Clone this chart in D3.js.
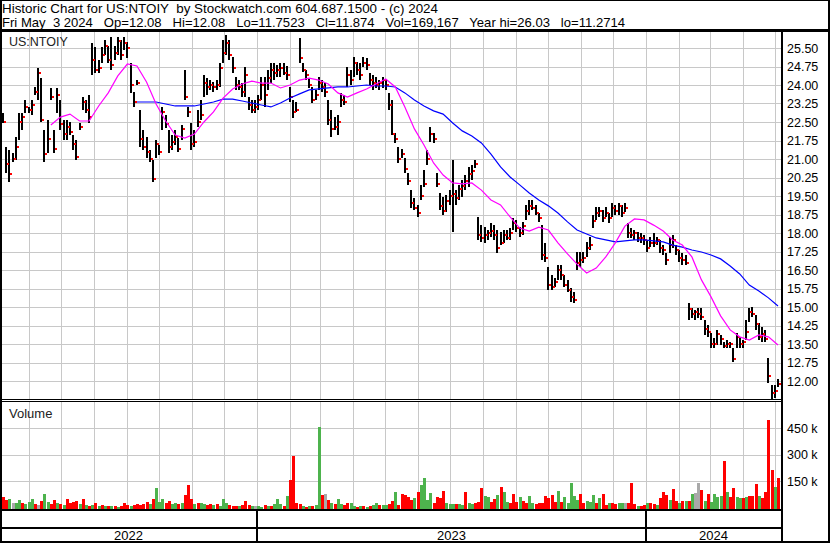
<!DOCTYPE html>
<html>
<head>
<meta charset="utf-8">
<script src="https://cdn.jsdelivr.net/npm/d3@7"></script>
<style>
body { margin: 0; background: #fff; }
text { font-family: Arial, "Liberation Sans", sans-serif; fill: #000; }
.header { white-space: pre; }
</style>
</head>
<body>
<div class="chart"></div>
<script>
// daily bars, one sample every ~3 calendar days, May 3 2022 -> May 3 2024
var highs = [
  22.86,21.49,21.37,21.24,21.9,22.86,22.86,23.39,23.1,23.39,
  23.92,24.7,24.28,22.18,22.58,23.88,22.18,23.88,23.39,22.58,
  22.58,22.5,21.97,21.77,22.46,23.51,23.39,23.6,25.7,25.54,
  25.0,25.54,25.82,25.6,25.95,25.6,25.95,25.82,25.95,25.74,
  24.89,23.72,24.2,22.99,22.18,21.9,21.37,20.96,21.77,21.57,
  23.1,22.78,22.18,21.97,22.18,21.85,22.38,24.61,23.1,22.46,
  22.18,22.99,23.39,24.4,24.28,24.2,24.12,24.2,24.89,25.82,
  26.03,25.82,25.14,24.32,24.2,24.08,24.73,23.51,23.39,23.39,
  23.6,24.32,24.32,24.61,24.89,24.89,24.81,24.89,24.89,24.77,
  23.92,23.39,23.31,25.9,24.89,24.61,24.28,23.92,23.8,24.32,
  24.2,24.08,23.39,22.99,22.7,22.78,23.68,23.6,24.73,24.61,
  25.14,24.93,24.89,25.14,25.1,24.49,24.41,24.32,24.2,24.32,
  24.2,23.68,23.39,22.05,21.49,21.4,21.04,20.43,19.74,19.42,
  19.14,19.95,20.55,21.37,22.3,22.05,20.43,19.62,19.46,19.54,
  19.74,20.96,19.74,19.95,20.15,20.35,20.68,20.76,20.96,18.65,
  18.32,18.24,18.12,18.4,18.32,18.12,18.04,18.12,18.12,18.2,
  18.61,18.53,18.24,18.45,19.14,19.34,19.34,19.14,18.81,18.32,
  17.6,16.62,16.3,16.18,16.7,16.7,16.3,16.1,15.77,15.61,
  17.23,17.23,17.23,17.64,17.84,18.73,19.05,19.05,18.93,19.05,
  18.81,19.22,19.14,19.22,19.14,19.22,18.41,18.2,18.12,18.04,
  18.0,17.92,17.72,17.84,18.0,17.84,17.72,17.51,17.19,17.84,
  17.92,17.51,17.31,17.19,17.11,15.16,14.96,14.88,14.96,14.96,
  14.47,14.27,13.94,13.74,14.07,13.86,13.58,13.66,13.58,13.34,
  13.94,13.78,13.66,14.47,14.96,15.0,14.68,14.35,14.19,14.07,
  12.93,11.84,11.84,12.08
];
var lows = [
  22.46,20.43,20.07,20.88,20.96,21.77,22.18,22.86,22.86,22.8,
  23.6,23.4,22.5,20.88,21.24,23.39,21.24,22.86,22.18,21.77,
  21.77,21.97,21.37,20.96,22.18,22.99,22.86,22.46,24.41,24.49,
  24.49,24.89,25.2,24.89,24.61,25.0,25.2,25.0,25.42,25.1,
  23.68,23.1,24.0,21.49,21.37,21.04,20.88,20.07,21.04,21.16,
  22.18,22.26,21.24,21.37,21.57,21.28,21.77,23.39,22.7,21.37,
  21.49,22.3,22.58,23.51,23.6,23.8,23.72,23.8,23.92,24.89,
  25.2,25.0,24.49,23.8,23.8,23.51,23.51,22.99,22.86,22.86,
  22.99,23.39,23.1,23.8,24.08,24.2,24.32,24.32,24.41,24.2,
  23.31,22.66,22.9,24.89,24.53,24.2,23.88,23.27,23.39,23.8,
  23.72,23.51,22.38,21.9,22.18,21.97,23.1,23.18,23.92,24.0,
  24.32,24.41,24.2,24.73,24.61,24.0,23.8,23.88,23.8,23.88,
  23.8,22.99,21.97,21.65,20.84,21.04,20.43,19.95,19.01,18.93,
  18.65,19.34,19.87,20.76,21.69,21.65,19.87,18.93,18.73,18.85,
  19.14,18.04,19.14,19.34,19.46,19.74,19.87,20.15,20.64,17.72,
  17.64,17.6,17.72,17.84,17.72,17.19,17.51,17.6,17.72,17.72,
  18.12,18.04,17.84,17.92,18.53,18.73,18.93,18.73,18.45,16.91,
  16.83,15.69,15.69,15.81,16.1,16.1,15.81,15.61,15.2,15.16,
  16.5,16.62,16.79,17.03,17.31,18.2,18.53,18.65,18.45,18.65,
  18.41,18.65,18.73,18.73,18.65,18.85,17.8,17.8,17.72,17.64,
  17.6,17.51,17.23,17.43,17.43,17.51,17.19,17.11,16.7,17.19,
  17.39,17.11,16.83,16.7,16.7,14.47,14.55,14.47,14.55,14.47,
  13.86,13.78,13.34,13.34,13.46,13.46,13.34,13.34,13.34,12.77,
  13.34,13.34,13.34,13.66,14.39,14.6,14.07,13.66,13.58,13.58,
  11.92,11.27,11.31,11.75
];
var closes = [
  22.5,20.8,20.4,21.0,21.5,22.5,22.7,23.1,23.0,23.2,
  23.7,24.5,22.6,21.2,21.8,23.5,21.4,23.6,22.4,22.0,
  22.3,22.1,21.6,21.1,22.3,23.3,23.0,22.7,25.0,24.6,
  24.7,25.2,25.6,25.0,24.8,25.3,25.8,25.2,25.7,25.5,
  24.0,23.3,24.1,21.8,21.5,21.3,21.0,20.2,21.6,21.3,
  22.9,22.4,21.5,21.7,21.9,21.4,22.2,23.5,22.9,21.6,
  21.7,22.5,22.8,24.1,23.9,24.0,23.9,24.0,24.7,25.3,
  25.7,25.2,24.7,24.0,23.9,23.7,24.4,23.2,23.0,23.1,
  23.4,24.0,23.6,24.3,24.6,24.5,24.6,24.7,24.5,24.4,
  23.5,22.9,23.0,25.1,24.6,24.4,24.0,23.4,23.6,24.1,
  23.9,23.7,22.6,22.2,22.3,22.5,23.4,23.3,24.4,24.2,
  24.9,24.6,24.4,24.9,24.8,24.2,24.1,24.0,24.1,24.2,
  24.0,23.2,22.0,21.8,21.0,21.2,20.6,20.1,19.2,19.0,
  18.8,19.5,20.0,21.0,22.0,21.8,20.0,19.1,18.9,19.3,
  19.5,19.6,19.4,19.8,19.9,20.1,20.4,20.5,20.8,17.9,
  17.8,17.9,18.0,18.1,17.9,17.4,17.6,17.9,17.8,18.0,
  18.4,18.2,18.0,18.3,18.9,19.1,19.0,18.8,18.6,17.1,
  17.0,15.9,15.8,16.0,16.5,16.3,15.9,15.7,15.4,15.3,
  16.8,16.9,17.0,17.4,17.5,18.5,18.8,18.9,18.6,18.8,
  18.6,19.0,18.9,19.1,18.8,19.0,18.0,17.9,18.0,17.8,
  17.8,17.7,17.4,17.6,17.6,17.7,17.4,17.3,16.9,17.5,
  17.7,17.3,17.0,16.9,16.8,14.9,14.7,14.8,14.7,14.6,
  14.1,14.0,13.5,13.5,13.9,13.7,13.4,13.5,13.5,12.9,
  13.8,13.5,13.6,14.0,14.8,14.7,14.3,13.8,13.9,13.7,
  12.2,11.5,11.6,11.874
];

// moving averages at every 3rd bar (null before the line starts)
var maPink = [
  null,null,null,null,null,
  22.38,22.7,22.82,22.54,22.54,23.15,23.68,24.37,24.85,24.77,
  24.12,23.23,22.54,21.97,21.85,22.01,22.5,22.91,23.47,23.84,
  24.04,24.16,24.08,24.08,23.88,24.0,24.2,24.28,24.2,24.04,
  23.68,23.51,23.68,23.84,24.04,24.24,23.92,23.11,22.22,21.57,
  20.84,20.35,20.03,19.99,20.03,19.74,19.34,19.14,18.65,18.2,
  18.08,18.24,18.12,17.6,17.15,16.74,16.38,16.58,17.03,17.6,
  18.28,18.57,18.53,18.32,18.08,17.72,17.51,17.03,16.1,15.41,
  14.64,14.07,13.79,13.66,13.87,13.79,13.46
];
var maBlue = [
  null,null,null,null,null,null,null,null,null,null,null,null,null,null,
  23.31,23.31,23.31,23.23,23.15,23.15,23.15,23.23,23.31,23.43,
  23.43,23.35,23.27,23.19,23.11,23.27,23.47,23.64,23.8,23.84,
  23.88,23.92,23.92,23.96,24.0,23.96,23.96,23.92,23.68,23.39,
  23.15,22.95,22.82,22.46,22.14,21.93,21.65,21.2,20.68,20.27,
  19.95,19.62,19.34,19.1,18.81,18.45,18.12,17.96,17.8,17.72,
  17.64,17.68,17.72,17.72,17.68,17.64,17.51,17.43,17.31,17.23,
  17.11,16.95,16.66,16.34,15.89,15.65,15.37,15.04
];
var maStep = 3;

// volume in thousands, and r = down day, g = up day, n = unchanged
var volumes = [
  63,45,50,28,28,45,30,22,34,50,
  20,17,40,80,34,25,45,30,20,17,
  50,30,34,40,20,50,17,12,15,28,
  12,17,10,12,10,10,8,12,30,15,
  12,17,20,15,22,34,25,50,112,34,
  50,28,40,22,28,25,28,75,127,48,
  22,28,30,20,17,25,15,20,12,50,
  28,15,12,12,10,15,40,15,10,12,
  12,8,15,10,10,20,50,22,10,70,
  160,290,28,22,10,8,12,10,15,455,
  75,80,45,30,22,50,20,15,28,28,
  10,8,12,10,8,12,17,28,15,17,
  15,20,40,92,17,80,75,63,45,56,
  90,127,170,45,85,28,63,55,98,30,
  22,22,22,22,17,90,28,20,28,34,
  110,70,63,34,50,75,117,90,34,28,
  80,34,63,40,28,70,30,22,28,28,
  70,55,75,34,98,34,63,28,142,70,
  45,80,28,40,34,75,28,55,80,17,
  28,30,22,28,28,28,28,140,22,12,
  10,17,28,28,22,17,55,92,75,45,
  105,40,28,40,40,40,80,85,140,100,
  40,80,34,80,63,70,265,90,63,115,
  63,55,55,63,70,70,135,70,55,90,
  495,212,120,169
];
var volDir = ("rrgnggrggg" + "rnrggrrgrg" + "rrrrgrgrgr" + "grgrgrgrrr" + "grrrrrgrgg" +
  "grrggrgrrr" + "grggrrgrgg" + "grrrgrrrgn" + "ggrgrgggrg" + "rrrrgrgrgg" +
  "rnrgrggrrg" + "grgrgrggrg" + "grrgrrrrrg" + "rggggrrrrg" + "ggrggrggrr" +
  "rggrrgrggr" + "rrgrrggrrr" + "rrrrgrgggg" + "grrgggrgrr" + "grrggnrrrg" +
  "rrgrrgrrrg" + "rrgrgrgnnr" + "grggggrgrr" + "ggrgrrrgrr" + "rrgr").split("");

var priceTicks = [12.00, 12.75, 13.50, 14.25, 15.00, 15.75, 16.50, 17.25, 18.00, 18.75,
  19.50, 20.25, 21.00, 21.75, 22.50, 23.25, 24.00, 24.75, 25.50];
var volTicks = [150, 300, 450];
var years = [2022, 2023, 2024];

// header lines: text, baseline, width it takes in the picture
var headerLines = [
  ["Historic Chart for US:NTOIY  by Stockwatch.com 604.687.1500 - (c) 2024", 13, 436],
  ["Fri May  3 2024   Op=12.08   Hi=12.08   Lo=11.7523   Cl=11.874   Vol=169,167   Year hi=26.03   lo=11.2714", 27, 623]
];

var svgWidth = 830;
var svgHeight = 543;
var plotRight = 781;

var svg = d3.select(".chart")
  .append("svg")
  .attr("width", svgWidth)
  .attr("height", svgHeight);

// scales
var xIndex = d3.scaleLinear().domain([0, closes.length - 1]).range([3, 778]);
var xTime = d3.scaleTime().domain([new Date(2022, 4, 1), new Date(2024, 4, 5)]).range([-4, 779]);
var yPrice = d3.scaleLinear().domain([12, 25.5]).range([381, 48]);
var yVol = d3.scaleLinear().domain([0, 450]).range([508, 428]);

var months = xTime.ticks(d3.timeMonth.every(1)).filter(function(m) {
  return xTime(m) > 3 && xTime(m) < plotRight - 2;
});

svg.append("defs").append("clipPath").attr("id", "priceClip")
  .append("rect").attr("x", 2).attr("y", 32).attr("width", plotRight - 2).attr("height", 367);

// grid
var grid = svg.append("g").attr("stroke", "#c8c8c8").attr("stroke-width", 1).attr("shape-rendering", "crispEdges");

grid.selectAll(".hp").data(priceTicks).enter().append("line")
  .attr("x1", 2).attr("x2", plotRight)
  .attr("y1", function(d) { return Math.round(yPrice(d)) + 0.5; })
  .attr("y2", function(d) { return Math.round(yPrice(d)) + 0.5; });

grid.selectAll(".hv").data(volTicks).enter().append("line")
  .attr("x1", 2).attr("x2", plotRight)
  .attr("y1", function(d) { return Math.round(yVol(d)) + 0.5; })
  .attr("y2", function(d) { return Math.round(yVol(d)) + 0.5; });

grid.selectAll(".vp").data(months).enter().append("line")
  .attr("x1", function(d) { return Math.round(xTime(d)) + 0.5; })
  .attr("x2", function(d) { return Math.round(xTime(d)) + 0.5; })
  .attr("y1", 32).attr("y2", 399);

grid.selectAll(".vv").data(months).enter().append("line")
  .attr("x1", function(d) { return Math.round(xTime(d)) + 0.5; })
  .attr("x2", function(d) { return Math.round(xTime(d)) + 0.5; })
  .attr("y1", 402).attr("y2", 509);

// volume bars
var volColor = { r: "#ff0000", g: "#4db34d", n: "#a9a9a9" };
svg.append("g").attr("shape-rendering", "crispEdges")
  .selectAll("rect").data(volumes).enter().append("rect")
  .attr("x", function(d, i) { return Math.round(xIndex(i)) - 1; })
  .attr("y", function(d) { return yVol(d); })
  .attr("width", 3)
  .attr("height", function(d) { return 509 - yVol(d); })
  .attr("fill", function(d, i) { return volColor[volDir[i]]; });

// price bars
var price = svg.append("g").attr("clip-path", "url(#priceClip)");

price.append("g").attr("shape-rendering", "crispEdges")
  .selectAll("rect").data(closes).enter().append("rect")
  .attr("x", function(d, i) { return Math.round(xIndex(i)) - 1; })
  .attr("y", function(d, i) { return yPrice(highs[i]); })
  .attr("width", 2)
  .attr("height", function(d, i) { return Math.max(1, yPrice(lows[i]) - yPrice(highs[i])); })
  .attr("fill", "#000");

price.append("g").attr("shape-rendering", "crispEdges")
  .selectAll("rect").data(closes).enter().append("rect")
  .attr("x", function(d, i) { return Math.round(xIndex(i)) + 1; })
  .attr("y", function(d) { return Math.round(yPrice(d)) - 1; })
  .attr("width", 2)
  .attr("height", 2)
  .attr("fill", "#ff0000");

// moving averages
var maLine = d3.line()
  .defined(function(d) { return d != null; })
  .x(function(d, k) { return xIndex(k * maStep); })
  .y(function(d) { return yPrice(d); });

price.append("path").datum(maBlue).attr("d", maLine)
  .attr("fill", "none").attr("stroke", "#0000ff").attr("stroke-width", 1.2);
price.append("path").datum(maPink).attr("d", maLine)
  .attr("fill", "none").attr("stroke", "#ff00ff").attr("stroke-width", 1.2);

// panel titles
svg.append("text").attr("x", 9).attr("y", 46).style("font-size", "12.5px").style("fill", "#222").text("US:NTOIY");
svg.append("text").attr("x", 9).attr("y", 417.5).style("font-size", "13px").style("fill", "#222").text("Volume");

// right axis labels
svg.selectAll(".pl").data(priceTicks).enter().append("text")
  .attr("x", 787).attr("y", function(d) { return yPrice(d); }).attr("dy", "0.36em")
  .style("font-size", "12.5px")
  .text(function(d) { return d.toFixed(2); });

svg.selectAll(".vl").data(volTicks).enter().append("text")
  .attr("x", 787).attr("y", function(d) { return yVol(d); }).attr("dy", "0.36em")
  .style("font-size", "12.5px")
  .text(function(d) { return d + " k"; });

// header
svg.selectAll(".header").data(headerLines).enter().append("text")
  .attr("class", "header")
  .attr("xml:space", "preserve")
  .attr("x", 2)
  .attr("y", function(d) { return d[1]; })
  .attr("textLength", function(d) { return d[2]; })
  .attr("lengthAdjust", "spacingAndGlyphs")
  .style("font-size", "13.5px")
  .text(function(d) { return d[0]; });

// year band
var yearBounds = years.map(function(y) {
  var a = Math.max(0, xTime(new Date(y, 0, 1)));
  var b = Math.min(plotRight, xTime(new Date(y + 1, 0, 1)));
  return { year: y, a: a, b: b };
});

svg.selectAll(".yl").data(yearBounds).enter().append("text")
  .attr("x", function(d) { return (d.a + d.b) / 2; }).attr("y", 539.5)
  .attr("text-anchor", "middle").style("font-size", "13px")
  .text(function(d) { return d.year; });

// frame
var frame = svg.append("g").attr("fill", "#000").attr("shape-rendering", "crispEdges");
frame.append("rect").attr("x", 0).attr("y", 0).attr("width", svgWidth).attr("height", 1);
frame.append("rect").attr("x", 0).attr("y", 0).attr("width", 2).attr("height", svgHeight);
frame.append("rect").attr("x", svgWidth - 2).attr("y", 0).attr("width", 2).attr("height", svgHeight);
frame.append("rect").attr("x", 0).attr("y", svgHeight - 2).attr("width", svgWidth).attr("height", 2);
frame.append("rect").attr("x", 0).attr("y", 29).attr("width", svgWidth).attr("height", 3);
frame.append("rect").attr("x", plotRight).attr("y", 29).attr("width", 2).attr("height", svgHeight - 29);
frame.append("rect").attr("x", 0).attr("y", 399).attr("width", plotRight).attr("height", 1);
frame.append("rect").attr("x", 0).attr("y", 401).attr("width", plotRight).attr("height", 1);
frame.append("rect").attr("x", 0).attr("y", 509).attr("width", plotRight).attr("height", 2);
frame.append("rect").attr("x", 0).attr("y", 527).attr("width", plotRight).attr("height", 2);

frame.selectAll(".ys").data(yearBounds.slice(1)).enter().append("rect")
  .attr("x", function(d) { return Math.round(d.a) - 1; })
  .attr("y", 509).attr("width", 2).attr("height", svgHeight - 509);
</script>
</body>
</html>
